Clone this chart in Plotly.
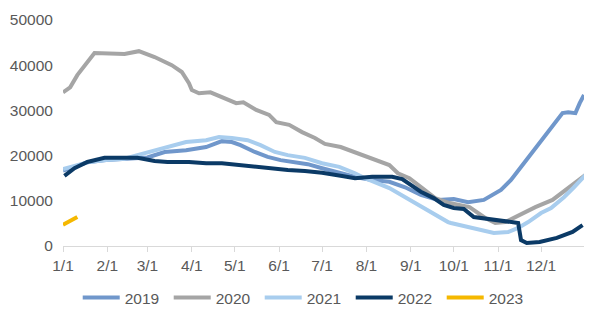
import pandas as pd
import plotly.graph_objects as go

# day offsets from Jan 1, values
d2019 = [0, 8, 17, 30, 43, 59, 71, 86, 100, 111, 118, 124, 134, 143, 152, 162, 171, 181, 193, 205, 216, 228, 239, 250, 262, 273, 283, 294, 306, 313, 322, 331, 340, 349, 353, 358, 361, 364]
v2019 = [16700, 17500, 18500, 19000, 19300, 19600, 20800, 21200, 21900, 23200, 23000, 22300, 20800, 19700, 19000, 18600, 18100, 17200, 16100, 15200, 14600, 14200, 13000, 11300, 10200, 10400, 9700, 10200, 12400, 14600, 18300, 21900, 25600, 29400, 29600, 29400, 31600, 33400]

d2020 = [0, 2, 5, 10, 17, 22, 43, 53, 64, 76, 83, 88, 90, 95, 103, 111, 121, 126, 135, 144, 149, 158, 167, 176, 183, 194, 205, 215, 228, 234, 242, 251, 260, 270, 277, 284, 295, 302, 309, 319, 330, 342, 351, 360, 365]
v2020 = [34000, 34400, 35100, 37800, 40700, 42700, 42500, 43100, 41800, 40000, 38500, 36000, 34500, 33800, 34000, 33000, 31600, 31800, 30100, 29000, 27400, 26800, 25200, 23900, 22600, 21900, 20600, 19500, 17900, 16100, 15000, 12800, 10600, 9500, 9000, 8600, 6200, 5100, 5300, 6900, 8600, 10200, 12400, 14600, 15700]

d2021 = [0, 8, 17, 30, 43, 52, 71, 86, 100, 109, 118, 129, 138, 148, 157, 169, 181, 193, 204, 211, 228, 242, 256, 269, 271, 283, 294, 301, 311, 318, 325, 334, 341, 350, 357, 365]
v2021 = [17000, 17600, 18500, 19000, 19300, 20100, 21700, 23000, 23400, 24100, 23900, 23400, 22300, 20800, 20100, 19500, 18300, 17500, 16100, 15000, 12800, 10200, 7500, 5300, 5100, 4200, 3500, 2900, 3100, 4000, 5300, 7300, 8400, 10800, 13000, 15700]

d2022 = [1, 8, 17, 29, 41, 52, 64, 73, 88, 100, 111, 122, 134, 145, 157, 169, 181, 195, 204, 216, 230, 237, 243, 250, 259, 266, 273, 280, 287, 297, 306, 315, 318, 320, 324, 333, 345, 356, 363]
v2022 = [15500, 17200, 18600, 19500, 19500, 19500, 18800, 18600, 18600, 18300, 18300, 17900, 17500, 17200, 16800, 16600, 16200, 15500, 15000, 15300, 15300, 14800, 13500, 12000, 10600, 9100, 8400, 8200, 6400, 6000, 5500, 5300, 5100, 1300, 660, 900, 1800, 3100, 4600]

d2023 = [0, 3, 6, 10]
v2023 = [4700, 5200, 5800, 6400]

series = [
    ("2019", d2019, v2019, "#7097CB"),
    ("2020", d2020, v2020, "#A5A5A5"),
    ("2021", d2021, v2021, "#A8CDEE"),
    ("2022", d2022, v2022, "#0B3A66"),
    ("2023", d2023, v2023, "#F5B800"),
]

base = pd.Timestamp("2001-01-01")
fig = go.Figure()
for name, d, v, c in series:
    x = base + pd.to_timedelta(d, unit="D")
    fig.add_trace(go.Scatter(x=x, y=v, name=name, mode="lines",
                             line=dict(color=c, width=4)))

font = dict(family="Liberation Sans, Arial, sans-serif", size=15.5, color="#595959")
fig.update_layout(
    width=576, height=301,
    margin=dict(l=55, r=0, t=12, b=63, autoexpand=False),
    paper_bgcolor="white", plot_bgcolor="white",
    font=font,
    showlegend=True,
    legend=dict(orientation="h", xref="container", x=0.516, xanchor="center",
                yref="container", y=0.0365, yanchor="middle",
                font=font, itemwidth=37, tracegroupgap=0,
                entrywidth=39, entrywidthmode="pixels"),
    xaxis=dict(type="date", range=["2001-01-01", "2001-12-31"],
               tick0="2001-01-01", dtick="M1", tickformat="%-m/%-d",
               ticklabelmode="instant", automargin=False,
               showgrid=False, showline=True, linecolor="#D9D9D9", linewidth=1,
               ticks="outside", ticklen=5, tickcolor="#D9D9D9", zeroline=False),
    yaxis=dict(range=[0, 50000], dtick=10000, tickformat="d", automargin=False,
               showgrid=False, zeroline=False,
               showline=False, ticks="outside", ticklen=6, tickcolor="white"),
)
fig.write_html("out.html")
